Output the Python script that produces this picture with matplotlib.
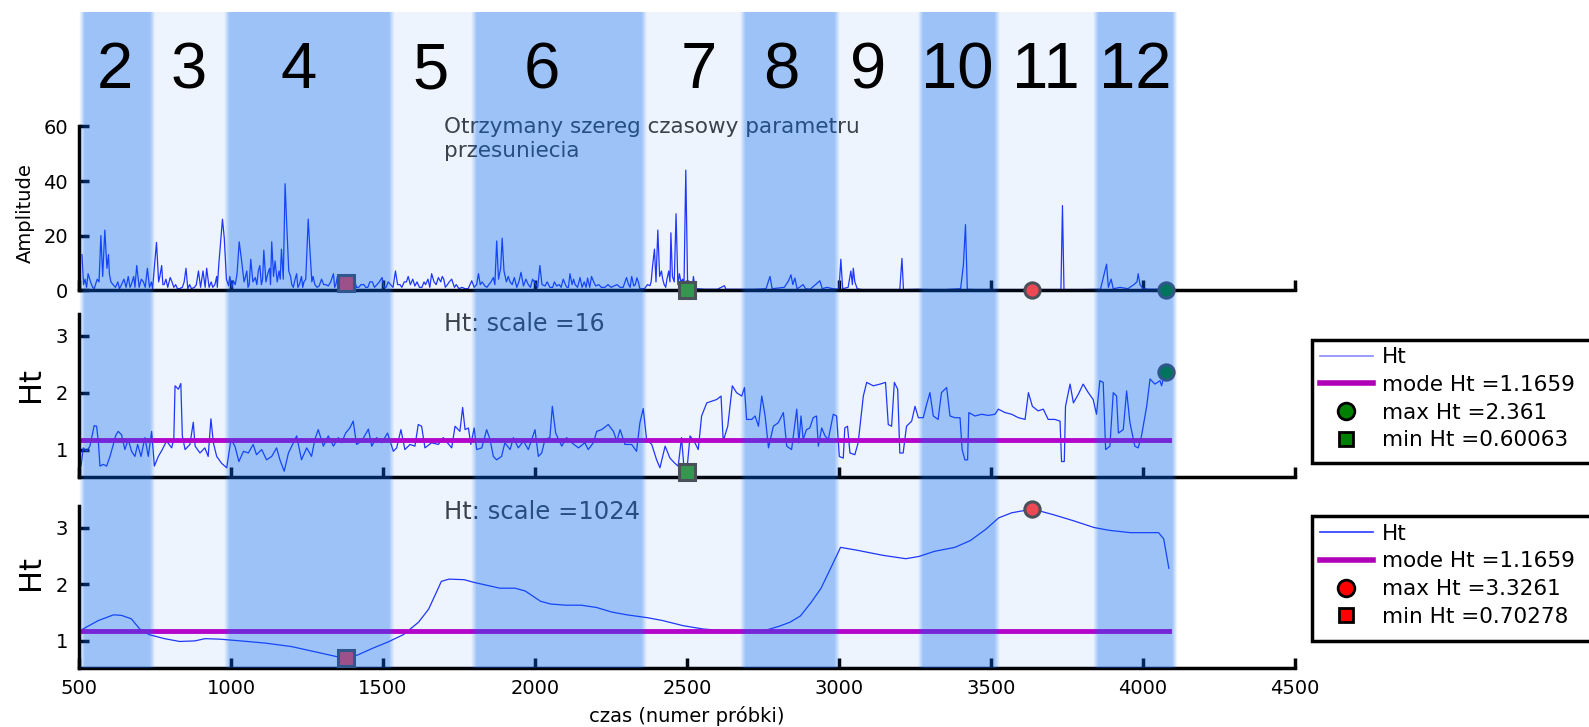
import matplotlib
matplotlib.use('Agg')
import matplotlib.pyplot as plt
import numpy as np
from matplotlib.lines import Line2D
from matplotlib.patches import Rectangle

plt.rcParams['font.family'] = ['DejaVu Sans']

# --- band segmentation (sample numbers) ---
band_edges = [510, 741, 985, 1528, 1797, 2358, 2681, 2992, 3266, 3517, 3842, 4102]
band_labels = ['2', '3', '4', '5', '6', '7', '8', '9', '10', '11', '12']
band_label_x = [617, 860, 1224, 1657, 2024, 2537, 2810, 3097, 3390, 3680, 3974]
band_dark = [True, False, True, False, True, False, True, False, True, False, True]

# --- panel 1: amplitude series (peaks) ---
amp_x = [510, 515, 530, 545, 560, 572, 578, 585, 592, 597, 605, 620, 640, 655, 662, 672, 690, 698, 712, 725,
         732, 742, 755, 762, 772, 780, 800, 812, 830, 852, 858, 880, 893, 900, 908, 915, 920, 928, 947, 960,
         972, 978, 985, 992, 1008, 1020, 1027, 1035, 1043, 1052, 1060, 1065, 1072, 1080, 1090, 1100, 1108,
         1115, 1121, 1134, 1140, 1145, 1152, 1158, 1166, 1172, 1178, 1183, 1190, 1200, 1211, 1225, 1240,
         1254, 1260, 1266, 1276, 1290, 1305, 1320, 1337, 1345, 1355, 1365, 1378, 1390, 1400, 1420, 1437,
         1450, 1465, 1480, 1497, 1510, 1525, 1541, 1548, 1556, 1570, 1583, 1590, 1605, 1620, 1640, 1660,
         1668, 1682, 1690, 1700, 1712, 1726, 1735, 1750, 1770, 1780, 1792, 1800, 1814, 1820, 1835, 1848,
         1863, 1874, 1880, 1887, 1892, 1898, 1906, 1918, 1932, 1940, 1954, 1962, 1978, 1998, 2009, 2016,
         2023, 2033, 2049, 2071, 2093, 2105, 2115, 2122, 2132, 2148, 2155, 2173, 2180, 2186, 2200, 2230,
         2260, 2290, 2301, 2308, 2318, 2325, 2335, 2345, 2360, 2378, 2386, 2393, 2398, 2404, 2410, 2416,
         2425, 2434, 2440, 2447, 2452, 2458, 2464, 2470, 2480, 2496, 2502, 2514, 2521, 2530, 2560, 2600,
         2623, 2628, 2680, 2720, 2760, 2773, 2780, 2820, 2834, 2842, 2848, 2855, 2862, 2870, 2882, 2890,
         2905, 2937, 2945, 2960, 2980, 3000, 3006, 3012, 3030, 3039, 3044, 3047, 3052, 3060, 3075, 3150,
         3200, 3207, 3212, 3260, 3300, 3350, 3400, 3409, 3416, 3422, 3450, 3500, 3560, 3620, 3700, 3730,
         3735, 3740, 3800, 3860, 3880, 3886, 3895, 3902, 3925, 3950, 3970, 3980, 3984, 3990, 4000, 4020,
         4050, 4085]
amp_y = [13, 2, 6, 1, 4, 20, 5, 22, 8, 13, 3, 1, 2, 1, 5, 2, 9, 1, 3, 8,
         1, 0.5, 17.5, 3, 9, 2, 4.6, 1, 0.5, 8, 0.5, 1, 7, 1, 7, 1, 8, 1, 2, 9.5,
         26, 19, 4, 1.6, 3.4, 6, 17.7, 10.7, 3, 7, 2, 11.3, 3, 4.6, 7, 2, 14.6,
         3, 6, 17.7, 5, 10.7, 3, 7, 15, 4, 39, 25, 7, 2, 4, 2, 3,
         26, 14, 3, 2, 1.5, 2, 1.5, 6, 2, 4, 3, 5, 3, 2, 1, 2,
         1, 3, 2, 4.6, 1, 2, 7, 2, 2, 3, 5, 2, 1.5, 1, 2, 6,
         3, 4.6, 3, 4, 2, 4, 1, 0.5, 0.5, 0.5, 3.4, 1, 6, 2, 1.5, 2,
         4.6, 18, 4, 8, 19, 7, 3, 3, 4.6, 1, 6.5, 1.5, 2, 3, 1, 9,
         2, 1.5, 1, 1.5, 4, 1, 6, 2, 2, 4.6, 1, 4.4, 1, 5, 1.5, 1,
         1.5, 1, 4.6, 2, 5, 1.5, 4.5, 0.5, 0.5, 1.6, 8, 15, 3, 22, 5, 7,
         2, 4, 7, 21, 5, 3, 28, 2, 3, 44, 2, 2, 5, 0.5, 0.3, 0.3,
         1.6, 0.3, 0.3, 0.3, 0.5, 5, 0.5, 1, 3.4, 5.6, 2, 4.4, 0.5, 1, 2, 0.5,
         0.3, 3.4, 0.5, 1, 0.5, 0.3, 11.3, 0.5, 1, 7, 2, 8, 3, 0.5, 0.2, 0.2,
         0.2, 11.6, 0.2, 0.3, 0.2, 0.2, 0.5, 9, 24, 0.3, 0.2, 0.2, 0.2, 0.2, 0.2, 0.2,
         31, 0.2, 0.2, 0.3, 9.5, 1, 4, 0.5, 1, 0.5, 2, 3, 6, 2, 0.5, 0.3,
         0.3, 0.2]

# --- panel 1: low-level noise between the peaks ---
noise_x = [520, 525, 538, 550, 566, 600, 612, 628, 633, 648, 668, 680, 684, 705, 718, 738,
           766, 776, 786, 792, 806, 818, 824, 840, 846, 864, 870, 886, 935, 940, 953, 955,
           996, 1003, 1014, 1048, 1056, 1085, 1095, 1104, 1127, 1130, 1162, 1196, 1205, 1216, 1220,
           1232, 1236, 1246, 1270, 1283, 1298, 1312, 1328, 1341, 1350, 1360, 1372, 1384, 1395, 1408,
           1413, 1428, 1443, 1457, 1472, 1488, 1503, 1517, 1533,
           1562, 1577, 1598, 1612, 1628, 1635, 1648, 1654, 1675, 1695, 1705, 1718, 1741, 1760,
           1808, 1826, 1842, 1855, 1868, 1912, 1925, 1947, 1970, 1985, 1992, 2003, 2040, 2058, 2064,
           2080, 2086, 2100, 2110, 2127, 2140, 2162, 2168, 2193, 2210, 2218, 2240, 2250, 2270, 2280,
           2296, 2313, 2330, 2340, 2370, 2382, 2420, 2430, 2444, 2475, 2486, 2490, 2508, 2518, 2525]
noise_y = [4, 1, 3, 0.5, 3, 6, 2, 3, 0.5, 4, 1, 5, 1, 4, 1, 3,
           5, 2, 4, 1, 3, 2, 0.5, 1, 3, 2, 0.5, 2, 3, 1, 5, 1,
           5, 1, 2, 5, 1, 2, 9, 4, 8, 2, 4, 5, 1, 6, 1,
           5, 1, 4, 5, 1, 4, 2, 3, 1, 5, 1, 2, 4, 1, 3,
           1, 2, 1, 3, 1, 3, 1, 3, 1,
           1, 3, 4, 3, 1, 3, 4, 1, 2, 5, 1, 3, 2, 1,
           2, 3, 1, 3, 2, 5, 2, 3, 4, 1, 4, 2, 3, 1, 3,
           2, 1, 2, 1, 4, 1, 3, 1, 3, 2, 1, 2, 1, 2, 1,
           3, 1, 2, 3, 2, 3, 4, 1, 3, 6, 4, 1, 3, 1, 2]

# --- panel 2: Ht, scale 16 ---
ht16_x = [507, 514, 525, 536, 550, 558, 564, 569, 580, 591, 602, 613, 621, 629, 640, 651, 662, 673, 684, 693,
          704, 717, 728, 739, 748, 761, 774, 788, 805, 812, 816, 827, 835, 840, 849, 865, 876, 882, 898, 914,
          925, 934, 942, 953, 969, 986, 1000, 1013, 1026, 1041, 1057, 1073, 1084, 1101, 1117, 1134, 1150,
          1161, 1175, 1189, 1205, 1216, 1232, 1249, 1265, 1276, 1287, 1304, 1320, 1337, 1353, 1364, 1377,
          1391, 1402, 1413, 1430, 1452, 1463, 1479, 1496, 1515, 1534, 1545, 1559, 1572, 1589, 1605, 1616,
          1627, 1638, 1660, 1682, 1698, 1715, 1726, 1737, 1753, 1762, 1770, 1781, 1789, 1800, 1808, 1825,
          1841, 1852, 1863, 1874, 1890, 1901, 1918, 1929, 1945, 1962, 1978, 2000, 2011, 2022, 2033, 2049,
          2057, 2068, 2088, 2104, 2121, 2143, 2164, 2175, 2192, 2203, 2219, 2241, 2258, 2269, 2280, 2296,
          2318, 2334, 2345, 2356, 2367, 2384, 2400, 2411, 2428, 2444, 2460, 2471, 2482, 2491, 2499, 2510,
          2526, 2537, 2548, 2565, 2581, 2598, 2612, 2619, 2634, 2649, 2663, 2680, 2689, 2696, 2713, 2724,
          2735, 2746, 2757, 2768, 2784, 2800, 2817, 2828, 2844, 2861, 2868, 2875, 2882, 2893, 2904, 2915,
          2926, 2932, 2943, 2954, 2965, 2981, 2992, 3001, 3014, 3019, 3028, 3036, 3052, 3063, 3080, 3091,
          3113, 3135, 3153, 3162, 3173, 3182, 3193, 3200, 3211, 3222, 3239, 3250, 3261, 3277, 3288, 3299,
          3310, 3326, 3337, 3354, 3365, 3381, 3398, 3405, 3414, 3423, 3427, 3447, 3469, 3491, 3513, 3524,
          3546, 3568, 3590, 3612, 3623, 3636, 3655, 3672, 3688, 3710, 3727, 3732, 3741, 3745, 3760, 3771,
          3787, 3803, 3820, 3836, 3847, 3858, 3869, 3877, 3891, 3902, 3913, 3919, 3935, 3946, 3957, 3973,
          3984, 3995, 4012, 4023, 4039, 4056, 4061, 4070, 4085]
ht16_y = [0.71, 1.03, 0.97, 1.06, 1.42, 1.41, 1.12, 0.71, 0.74, 0.71, 0.88, 1.09, 1.25, 1.32, 1.26, 1.0, 1.18, 0.97, 0.88, 1.09,
          0.88, 1.21, 0.88, 1.32, 0.71, 0.88, 1.0, 1.15, 1.03, 1.2, 2.12, 2.06, 2.16, 1.24, 1.0, 1.09, 1.48, 1.06, 0.94, 1.03,
          0.88, 1.54, 1.12, 0.88, 0.76, 0.68, 1.18, 1.06, 0.79, 0.97, 0.94, 1.09, 0.91, 1.0, 0.82, 0.88, 1.03,
          0.82, 0.62, 0.94, 1.12, 1.24, 0.82, 1.03, 0.88, 1.18, 1.35, 1.06, 1.24, 1.06, 1.21, 1.12, 1.29,
          1.38, 1.5, 1.09, 1.15, 1.36, 1.06, 1.21, 1.12, 1.29, 0.97, 1.03, 1.35, 1.0, 1.09, 1.06, 1.44,
          1.41, 1.03, 1.12, 1.09, 1.21, 1.1, 1.03, 1.41, 1.32, 1.74, 1.35, 1.38, 1.09, 1.38, 1.0, 1.03,
          1.35, 1.18, 0.88, 0.82, 0.88, 1.12, 1.0, 1.21, 1.03, 1.15, 1.0, 1.35, 0.88, 0.94, 1.18, 1.21,
          1.76, 1.29, 1.06, 1.21, 1.12, 1.03, 1.12, 1.0, 1.12, 1.32, 1.35, 1.44, 1.32, 1.15, 1.35, 1.09,
          1.09, 0.97, 1.47, 1.72, 1.18, 1.09, 0.82, 0.68, 1.06, 0.85, 0.76, 0.71, 1.21, 0.62, 0.6006, 1.24,
          1.12, 1.0, 1.59, 1.82, 1.85, 1.88, 1.94, 1.15, 1.41, 2.12, 2.0, 1.94, 2.09, 1.53, 1.53, 1.59,
          1.41, 1.94, 1.59, 1.03, 1.41, 1.47, 1.65, 1.06, 1.0, 1.71, 1.12, 1.59, 1.18, 1.35, 1.38, 1.56,
          1.59, 1.06, 1.38, 1.24, 1.18, 1.62, 1.59, 0.88, 0.85, 1.38, 1.41, 0.94, 0.91, 1.12, 1.94, 2.18,
          2.12, 2.15, 2.18, 1.44, 1.41, 2.18, 2.06, 0.94, 0.94, 1.41, 1.5, 1.76, 1.56, 1.56, 1.79, 2.0,
          1.59, 1.53, 2.0, 2.09, 1.59, 1.56, 1.56, 1.0, 0.82, 0.82, 1.65, 1.59, 1.62, 1.6, 1.62, 1.71,
          1.65, 1.62, 1.56, 1.53, 2.0, 1.76, 1.68, 1.71, 1.53, 1.53, 1.5, 0.79, 0.79, 1.76, 2.15, 1.82,
          1.97, 2.15, 2.0, 1.88, 1.62, 2.21, 2.18, 1.0, 1.06, 2.0, 1.94, 1.29, 1.35, 2.03, 1.47, 1.06,
          1.03, 1.24, 1.76, 2.24, 2.15, 2.21, 2.12, 2.3, 2.25]

# --- panel 3: Ht, scale 1024 ---
ht1024_x = [513, 564, 614, 640, 672, 700, 731, 781, 831, 881, 915, 965, 1032, 1115, 1199, 1283, 1350, 1378,
            1416, 1466, 1516, 1567, 1617, 1650, 1675, 1692, 1717, 1767, 1801, 1851, 1884, 1935, 1968, 2018,
            2052, 2102, 2152, 2202, 2252, 2302, 2369, 2419, 2486, 2553, 2620, 2687, 2754, 2804, 2839, 2873,
            2907, 2941, 2975, 3005, 3059, 3144, 3220, 3263, 3314, 3381, 3432, 3483, 3525, 3568, 3636, 3703,
            3771, 3839, 3890, 3958, 4009, 4051, 4068, 4085]
ht1024_y = [1.21, 1.36, 1.46, 1.45, 1.39, 1.21, 1.11, 1.04, 0.99, 1.0, 1.04, 1.03, 1.0, 0.96, 0.9, 0.8, 0.72, 0.703,
            0.75, 0.87, 0.98, 1.11, 1.33, 1.56, 1.85, 2.05, 2.09, 2.08, 2.03, 1.97, 1.93, 1.93, 1.88, 1.70,
            1.65, 1.63, 1.63, 1.59, 1.51, 1.46, 1.41, 1.36, 1.27, 1.21, 1.18, 1.17, 1.18, 1.26, 1.33, 1.44,
            1.67, 1.93, 2.31, 2.65, 2.60, 2.51, 2.45, 2.49, 2.58, 2.65, 2.77, 2.97, 3.17, 3.26, 3.326, 3.23,
            3.12, 3.0, 2.95, 2.91, 2.91, 2.91, 2.8, 2.28]

mode_ht = 1.1659
mode_range = [510, 4085]
max16 = (4076, 2.361)
min16 = (2499, 0.60063)
max1024 = (3636, 3.3261)
min1024 = (1378, 0.70278)
amp_min1024_y = 2.5

line_col = '#2233ff'
mode_col = '#c000c8'
green = '#008000'
green_sq = '#3a9a45'
red = '#ff4848'
edge = '#505050'

fig = plt.figure(figsize=(15.89, 7.27), dpi=100)
left, width = 0.0497, 0.7653
ax1 = fig.add_axes([left, 0.601, width, 0.225])
ax2 = fig.add_axes([left, 0.344, width, 0.224])
ax3 = fig.add_axes([left, 0.081, width, 0.223])

for ax in [ax1, ax2, ax3]:
    ax.set_xlim(500, 4500)
    ax.set_xticks(range(500, 4501, 500))
    for s in ['top', 'right']:
        ax.spines[s].set_visible(False)
    for s in ['left', 'bottom']:
        ax.spines[s].set_linewidth(2.5)
    ax.tick_params(direction='in', length=7, width=2.5, labelsize=14, pad=8)
    ax.patch.set_alpha(0)

ax1.tick_params(labelbottom=False)
ax2.tick_params(labelbottom=False)

mk = dict(markersize=11, markeredgewidth=2.2, markeredgecolor=edge, clip_on=False, zorder=5, ls='none')

# panel 1
order = np.argsort(amp_x + noise_x, kind='stable')
ax1.plot(np.array(amp_x + noise_x)[order], np.array(amp_y + noise_y)[order], color=line_col, lw=0.9)
ax1.set_ylim(0, 60)
ax1.set_yticks([0, 20, 40, 60])
ax1.set_ylabel('Amplitude', fontsize=14)
ax1.yaxis.set_label_coords(-0.036, 0.47)
ax1.text(0.30, 1.06, 'Otrzymany szereg czasowy parametru\nprzesuniecia', transform=ax1.transAxes,
         fontsize=15.5, color='#404040', va='top', ha='left', linespacing=1.25)
ax1.plot(min1024[0], amp_min1024_y, marker='s', color=red, **mk)
ax1.plot(min16[0], 0, marker='s', color=green_sq, **mk)
ax1.plot(max1024[0], 0, marker='o', color=red, **mk)
ax1.plot(max16[0], 0, marker='o', color=green, **mk)

# panel 2
ax2.plot(ht16_x, ht16_y, color=line_col, lw=0.9)
ax2.plot(mode_range, [mode_ht, mode_ht], color=mode_col, lw=3.5)
ax2.plot(*max16, marker='o', color=green, **mk)
ax2.plot(*min16, marker='s', color=green_sq, **mk)
ax2.set_ylim(0.52, 3.38)
ax2.set_yticks([1, 2, 3])
ax2.set_ylabel('Ht', fontsize=22)
ax2.yaxis.set_label_coords(-0.028, 0.57)
ax2.text(0.30, 0.94, 'Ht: scale =16', transform=ax2.transAxes, fontsize=17, color='#404040',
         va='center', ha='left')

# panel 3
ax3.plot(ht1024_x, ht1024_y, color=line_col, lw=0.9)
ax3.plot(mode_range, [mode_ht, mode_ht], color=mode_col, lw=3.5)
ax3.plot(*max1024, marker='o', color=red, **mk)
ax3.plot(*min1024, marker='s', color=red, **mk)
ax3.set_ylim(0.52, 3.38)
ax3.set_yticks([1, 2, 3])
ax3.set_ylabel('Ht', fontsize=22)
ax3.yaxis.set_label_coords(-0.028, 0.59)
ax3.text(0.30, 0.963, 'Ht: scale =1024', transform=ax3.transAxes, fontsize=17.5, color='#404040',
         va='center', ha='left')
ax3.set_xlabel('czas (numer próbki)', fontsize=14)
ax3.xaxis.set_label_coords(0.5, -0.235)

# translucent bands over all three panels, drawn as one soft-edged overlay
ov = fig.add_axes([left, 0.081, width, 0.9835 - 0.081], zorder=2)
ov.set_xlim(500, 4500)
ov.set_ylim(0, 1)
ov.axis('off')
xs = np.arange(500, 4500, 2.0)
alpha = np.zeros_like(xs)
for i in range(len(band_labels)):
    inside = (xs >= band_edges[i]) & (xs < band_edges[i + 1])
    alpha[inside] = 0.39 if band_dark[i] else 0.067
alpha = np.convolve(alpha, np.ones(9) / 9, mode='same')
rgba = np.zeros((1, len(xs), 4))
rgba[..., 1] = 0.39
rgba[..., 2] = 0.94
rgba[..., 3] = alpha
ov.imshow(rgba, extent=(500, 4500, 0, 1), aspect='auto', interpolation='bilinear', origin='lower')
for i in range(len(band_labels)):
    ov.text(band_label_x[i], 0.91, band_labels[i], fontsize=47, ha='center', va='center',
            color='black', family='Liberation Sans', zorder=5)

# legends: box runs past the right edge of the figure, as in the original
def legend_handles(line_c, mark_c, max_v, min_v):
    h = [Line2D([], [], color=line_c, lw=1.2),
         Line2D([], [], color='#b000b8', lw=4),
         Line2D([], [], ls='none', marker='o', markersize=12, color=mark_c, markeredgecolor='black', markeredgewidth=2),
         Line2D([], [], ls='none', marker='s', markersize=10, color=mark_c, markeredgecolor='black', markeredgewidth=2)]
    labs = ['Ht', 'mode Ht =1.1659', 'max Ht =' + max_v, 'min Ht =' + min_v]
    return h, labs

leg_left = 0.8257
for (lc, mc, mx, mn, top, bottom) in [('#8a8aff', green, '2.361', '0.60063', 0.533, 0.363),
                                      ('#2a3aff', '#ff0000', '3.3261', '0.70278', 0.290, 0.118)]:
    box = Rectangle((leg_left, bottom), 0.3, top - bottom, transform=fig.transFigure,
                    facecolor='white', edgecolor='black', lw=2.5, zorder=5)
    fig.add_artist(box)
    h, labs = legend_handles(lc, mc, mx, mn)
    leg = fig.legend(h, labs, loc='upper left', bbox_to_anchor=(leg_left, top), fontsize=15.5,
                     frameon=False, borderpad=0.35, labelspacing=0.36, handlelength=2.5,
                     handletextpad=0.4, borderaxespad=0)
    leg.set_zorder(6)

fig.savefig('out.png', dpi=100)
